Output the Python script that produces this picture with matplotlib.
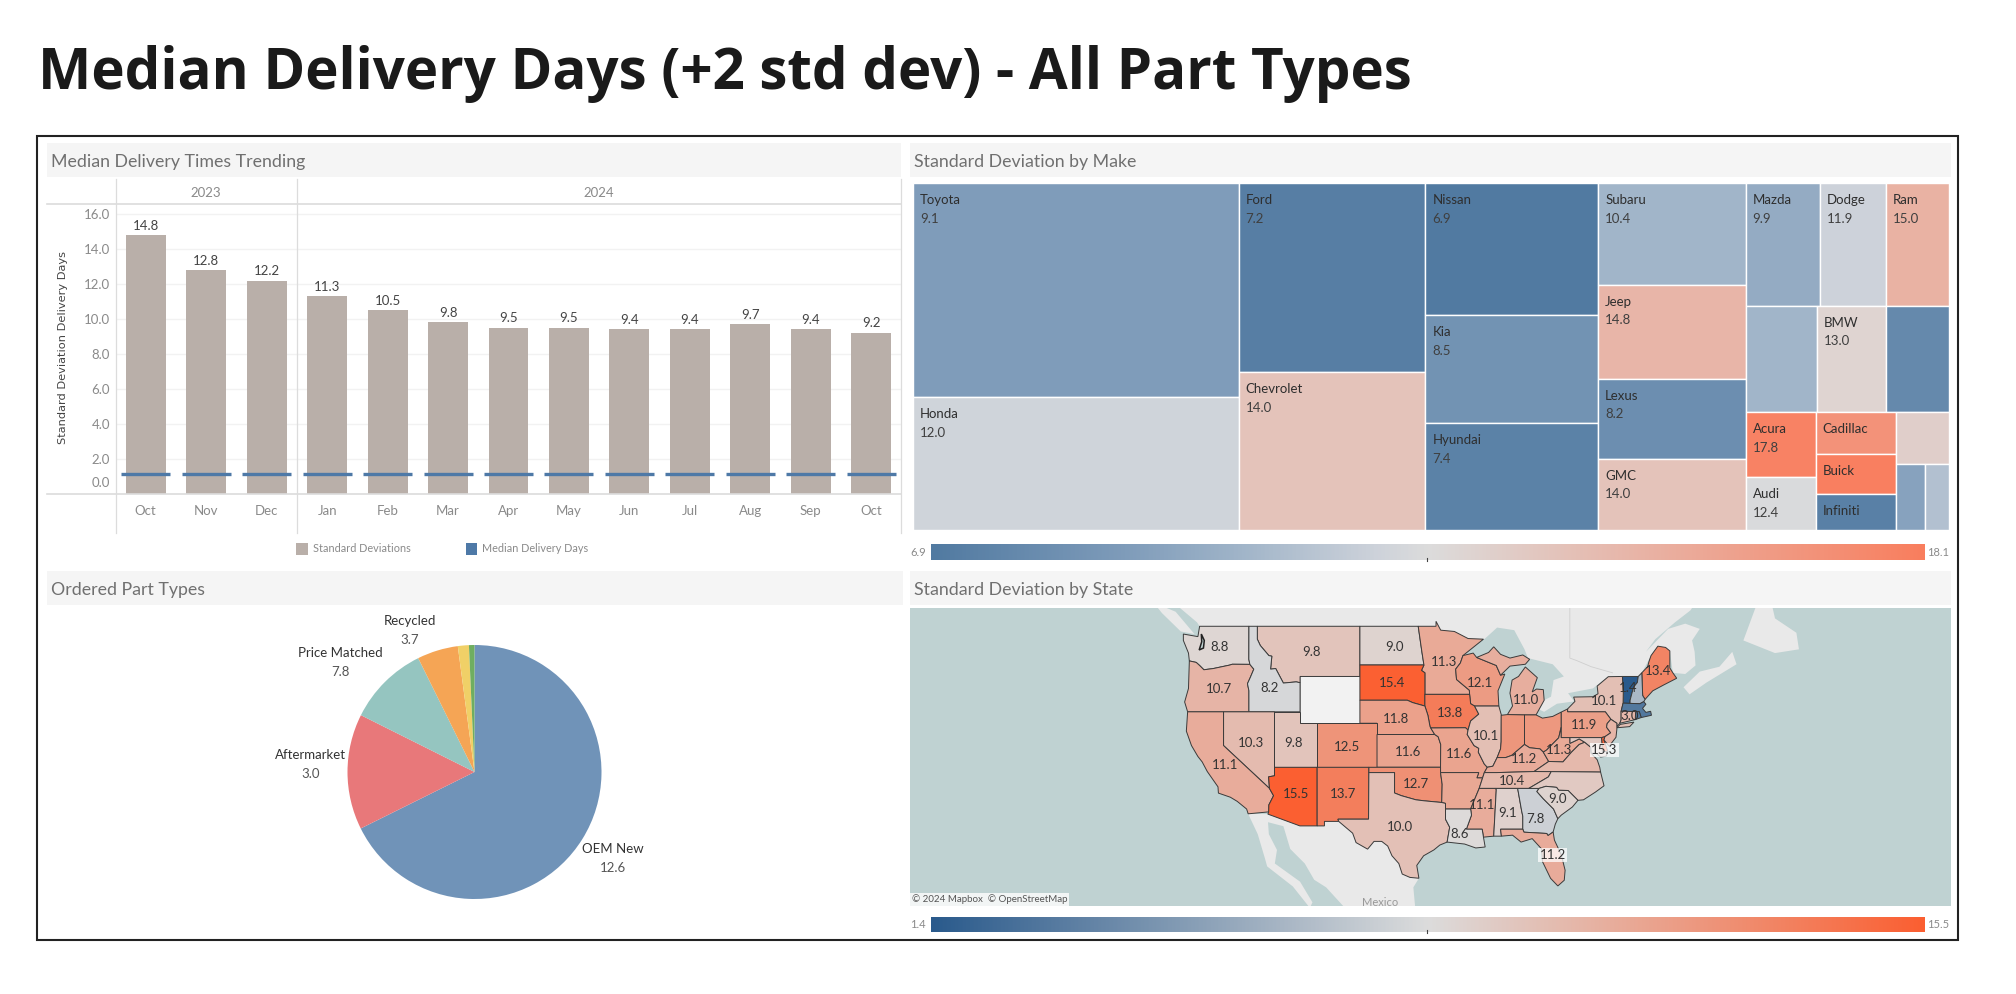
import numpy as np
import matplotlib
matplotlib.use("Agg")
import matplotlib.pyplot as plt
from matplotlib.patches import Rectangle, Polygon
from matplotlib.colors import LinearSegmentedColormap, TwoSlopeNorm
from matplotlib.transforms import ScaledTranslation

W, H = 2016, 994
BODY = ["Lato", "DejaVu Sans"]
plt.rcParams["font.family"] = BODY

# ---------- data ----------
months = ["Oct","Nov","Dec","Jan","Feb","Mar","Apr","May","Jun","Jul","Aug","Sep","Oct"]
std_dev = [14.8,12.8,12.2,11.3,10.5,9.8,9.5,9.5,9.4,9.4,9.7,9.4,9.2]
median_days = [1.1]*13
y_ticks = [0,2,4,6,8,10,12,14,16]

make_names = ["Toyota","Honda","Ford","Chevrolet","Nissan","Kia","Hyundai","Subaru","Jeep","Lexus","GMC",
              "Mazda","Dodge","Ram","","BMW","","Acura","Audi","Cadillac","Buick","Infiniti","","",""]
make_std = [9.1,12.0,7.2,14.0,6.9,8.5,7.4,10.4,14.8,8.2,14.0,
            9.9,11.9,15.0,10.4,13.0,7.9,17.8,12.4,16.9,18.0,7.3,13.3,9.4,11.0]
make_area = [303.7,188.3,153.7,128.2,99.4,81.3,80.3,65.3,60.3,51.4,45.6,
             39.7,35.3,33.5,32.9,32.2,29.0,19.9,16.1,14.6,13.9,12.4,11.9,8.3,6.9]
make_tree = [[0,1],[2,3],[4,5,6],[7,8,9,10],
             [[11,12,13],[14,15,16],[[17,18],[19,20,21],[22,[23,24]]]]]

part_names = ["OEM New","Aftermarket","Price Matched","Recycled","",""]
part_std = ["12.6","3.0","7.8","3.7","",""]
part_share = [67.6,14.7,10.3,5.2,1.4,0.7]
part_colors = ["#7093b8","#e8787a","#95c5c0","#f5a555","#f0d067","#6fae60"]

state_names = ["WA","MT","ND","MN","WI","SD","ME","VT","NH","OR","ID","WY","IA","MI","NY","NE","MA","RI","CT","PA",
               "NV","UT","CO","KS","MO","IL","IN","OH","KY","WV","VA","DE","MD","NJ","CA","AZ","NM","OK","AR",
               "TN","MS","AL","GA","NC","SC","TX","LA","FL"]
state_values = [8.8,9.8,9.0,11.3,12.1,15.4,13.4,1.4,6.5,10.7,8.2,None,13.8,11.0,10.1,11.8,3.0,3.0,10.5,11.9,
                10.3,9.8,12.5,11.6,11.6,10.1,12.4,12.3,11.2,11.3,10.4,15.3,9.6,10.6,11.1,15.5,13.7,12.7,11.4,
                10.4,11.1,9.1,7.8,9.5,9.0,10.0,8.6,11.2]

# base geography (lon, lat outlines, simplified)
GEO = {
"WA":[[(-124.7,48.4),(-123.0,48.2),(-122.8,49),(-117.03,49),(-117.04,46.4),(-116.92,45.99),(-118.98,46),(-119.3,45.93),(-121.2,45.65),(-122.3,45.55),(-122.8,45.9),(-123.2,46.15),(-124,46.27),(-124.1,46.9),(-124.7,47.9)]],
"OR":[[(-124,46.27),(-123.2,46.15),(-122.8,45.9),(-122.3,45.55),(-121.2,45.65),(-119.3,45.93),(-118.98,46),(-116.92,45.99),(-116.46,45.6),(-116.85,44.95),(-117.2,44.4),(-117.03,43.8),(-117.03,42),(-124.2,42),(-124.55,42.85),(-124.1,44)]],
"CA":[[(-124.2,42),(-120,42),(-120,39),(-114.63,35),(-114.15,34.3),(-114.7,33.4),(-114.72,32.72),(-117.12,32.53),(-117.3,33),(-118.4,33.75),(-119.2,34.15),(-120.6,34.55),(-120.65,35.15),(-121.9,36.6),(-122.5,37.5),(-123,38),(-123.75,39),(-124.35,40.3)]],
"NV":[[(-120,42),(-114.04,42),(-114.04,36.2),(-114.73,36.1),(-114.63,35),(-120,39)]],
"ID":[[(-117.03,49),(-116.05,49),(-116.05,48),(-115.7,47.5),(-114.7,46.7),(-114.35,46.65),(-114.5,45.6),(-113.9,45.65),(-113.45,45.05),(-113,44.45),(-111.5,44.55),(-111.05,44.48),(-111.05,42),(-117.03,42),(-117.03,43.8),(-117.2,44.4),(-116.85,44.95),(-116.46,45.6),(-116.92,45.99),(-117.04,46.4)]],
"MT":[[(-116.05,49),(-104.05,49),(-104.05,45),(-111.05,45),(-111.05,44.48),(-111.5,44.55),(-113,44.45),(-113.45,45.05),(-113.9,45.65),(-114.5,45.6),(-114.35,46.65),(-114.7,46.7),(-115.7,47.5),(-116.05,48)]],
"WY":[[(-111.05,45),(-104.05,45),(-104.05,41),(-111.05,41)]],
"UT":[[(-114.04,42),(-111.05,42),(-111.05,41),(-109.05,41),(-109.05,37),(-114.04,37)]],
"CO":[[(-109.05,41),(-102.05,41),(-102.05,37),(-109.05,37)]],
"AZ":[[(-114.04,37),(-109.05,37),(-109.05,31.33),(-111.07,31.33),(-114.81,32.5),(-114.72,32.72),(-114.7,33.4),(-114.15,34.3),(-114.63,35),(-114.73,36.1),(-114.04,36.2)]],
"NM":[[(-109.05,37),(-103,37),(-103.04,32),(-106.62,32),(-106.53,31.78),(-108.2,31.78),(-108.2,31.33),(-109.05,31.33)]],
"ND":[[(-104.05,49),(-97.23,49),(-96.8,47),(-96.56,45.94),(-104.05,45.94)]],
"SD":[[(-104.05,45.94),(-96.56,45.94),(-96.85,45.5),(-96.45,45.3),(-96.45,42.5),(-97.9,42.8),(-98.5,43),(-104.05,43)]],
"NE":[[(-104.05,43),(-98.5,43),(-97.9,42.8),(-96.45,42.5),(-96.1,41.7),(-95.85,40.7),(-95.3,40),(-102.05,40),(-102.05,41),(-104.05,41)]],
"KS":[[(-102.05,40),(-95.3,40),(-94.9,39.8),(-94.6,39.1),(-94.62,37),(-102.05,37)]],
"OK":[[(-103,37),(-94.62,37),(-94.62,36.5),(-94.43,35.4),(-94.48,33.64),(-96.5,33.8),(-97.5,33.9),(-99.2,34.3),(-100,34.56),(-100,36.5),(-103,36.5)]],
"TX":[[(-103,36.5),(-100,36.5),(-100,34.56),(-99.2,34.3),(-97.5,33.9),(-96.5,33.8),(-94.48,33.64),(-94.04,33.55),(-94.04,32),(-93.55,31.2),(-93.85,29.7),(-94.7,29.4),(-95.4,28.9),(-96.6,28.3),(-97.4,27.3),(-97.15,25.96),(-98.2,26.05),(-99.1,26.4),(-99.5,27.5),(-100.3,28.3),(-100.8,29.3),(-101.5,29.77),(-102.4,29.77),(-103.15,28.98),(-104.5,29.65),(-104.9,30.6),(-106.53,31.78),(-106.62,32),(-103.04,32)]],
"MN":[[(-97.23,49),(-95.15,49),(-95.15,49.38),(-94.6,48.7),(-93,48.6),(-91.4,48.05),(-89.6,48),(-92,46.7),(-92.3,46.1),(-92.85,45.6),(-92.75,44.75),(-91.25,43.85),(-91.22,43.5),(-96.45,43.5),(-96.45,45.3),(-96.85,45.5),(-96.56,45.94),(-96.8,47)]],
"IA":[[(-96.45,43.5),(-91.22,43.5),(-91.1,42.7),(-90.64,42.5),(-90.15,41.8),(-91.1,41.2),(-91.4,40.4),(-91.7,40.6),(-95.77,40.58),(-95.85,40.7),(-96.1,41.7),(-96.45,42.5)]],
"MO":[[(-95.77,40.58),(-91.7,40.6),(-91.4,40.4),(-91.5,40),(-90.7,39),(-90.15,38.75),(-90.2,38.4),(-89.5,37.3),(-89.15,37),(-89.5,36.5),(-89.7,36),(-90.37,36),(-90.15,36.5),(-94.62,36.5),(-94.62,37),(-94.6,39.1),(-94.9,39.8),(-95.3,40)]],
"AR":[[(-94.62,36.5),(-90.15,36.5),(-90.37,36),(-89.7,36),(-90.1,35),(-91.1,33),(-94.04,33),(-94.04,33.55),(-94.48,33.64),(-94.43,35.4)]],
"LA":[[(-94.04,33),(-91.1,33),(-91,32.4),(-91.6,31),(-89.75,31),(-89.6,30.2),(-89.4,29.2),(-90.5,29.1),(-91.8,29.5),(-93.85,29.7),(-93.55,31.2),(-94.04,32)]],
"MS":[[(-91.1,33),(-90.1,35),(-88.2,35),(-88.1,34.9),(-88.4,30.3),(-89.6,30.2),(-89.75,31),(-91.6,31),(-91,32.4)]],
"AL":[[(-88.2,35),(-85.6,35),(-85.13,32.8),(-85,32.3),(-85,31),(-87.6,31),(-87.5,30.3),(-88.4,30.3),(-88.1,34.9)]],
"TN":[[(-90.1,35),(-89.7,36),(-89.5,36.5),(-88.05,36.5),(-83.68,36.6),(-81.68,36.59),(-82,36.1),(-84.3,35),(-88.2,35)]],
"KY":[[(-89.5,36.5),(-89.15,37),(-88.5,37.1),(-88,37.9),(-87,37.9),(-86.3,38.1),(-85.4,38.7),(-84.8,39.1),(-84.2,38.8),(-83,38.7),(-82.6,38.4),(-81.97,37.54),(-83.68,36.6),(-88.05,36.5)]],
"IL":[[(-90.64,42.5),(-87.8,42.5),(-87.5,41.7),(-87.53,39.35),(-87.6,38.7),(-88,37.9),(-88.5,37.1),(-89.15,37),(-89.5,37.3),(-90.2,38.4),(-90.15,38.75),(-90.7,39),(-91.5,40),(-91.4,40.4),(-91.1,41.2),(-90.15,41.8)]],
"WI":[[(-92,46.7),(-90.8,46.9),(-90.4,46.55),(-88.1,45.9),(-87.6,45.1),(-87.1,45.2),(-87.9,43.8),(-87.8,42.5),(-90.64,42.5),(-91.1,42.7),(-91.22,43.5),(-91.25,43.85),(-92.75,44.75),(-92.85,45.6),(-92.3,46.1)]],
"MI":[[(-86.8,41.76),(-84.8,41.73),(-83.45,41.73),(-83.1,42.2),(-82.5,43),(-82.6,43.9),(-83.4,43.95),(-83.9,43.7),(-83.3,44.9),(-84.7,45.78),(-85.5,45),(-86.25,44.7),(-86.5,43.6),(-86.2,42.5)],
      [(-90.4,46.55),(-89,46.95),(-88.4,47.4),(-87.6,46.8),(-86.5,46.5),(-85,46.75),(-84.2,46.4),(-84.7,46),(-86.5,45.85),(-87.6,45.1),(-88.1,45.9)]],
"IN":[[(-87.53,41.7),(-86.8,41.76),(-84.8,41.73),(-84.8,39.1),(-85.4,38.7),(-86.3,38.1),(-87,37.9),(-88,37.9),(-87.6,38.7),(-87.53,39.35)]],
"OH":[[(-84.8,41.73),(-83.45,41.73),(-82.7,41.45),(-81.5,41.6),(-80.52,41.97),(-80.52,40.64),(-80.8,39.7),(-81.7,39),(-82.2,38.6),(-82.6,38.4),(-83,38.7),(-84.2,38.8),(-84.8,39.1)]],
"WV":[[(-80.52,40.64),(-80.52,39.72),(-79.48,39.72),(-79.48,39.2),(-78.4,39.6),(-77.75,39.3),(-78.4,39.1),(-79.3,38.4),(-80.3,37.5),(-81.97,37.54),(-82.6,38.4),(-82.2,38.6),(-81.7,39),(-80.8,39.7)]],
"VA":[[(-83.68,36.6),(-81.68,36.59),(-75.9,36.55),(-76,37),(-76.3,37.7),(-77,38.3),(-77.05,38.85),(-77.75,39.3),(-78.4,39.1),(-79.3,38.4),(-80.3,37.5),(-81.97,37.54)]],
"NC":[[(-84.3,35),(-82,36.1),(-81.68,36.59),(-75.9,36.55),(-75.5,35.25),(-76.5,34.65),(-77.9,33.9),(-78.55,33.85),(-79.7,34.8),(-80.8,34.82),(-81.05,35.1),(-82.3,35.2),(-83.1,35)]],
"SC":[[(-83.1,35),(-82.3,35.2),(-81.05,35.1),(-80.8,34.82),(-79.7,34.8),(-78.55,33.85),(-79.2,33.2),(-80.5,32.4),(-80.9,32.05),(-81.4,33),(-82.6,34),(-83.35,34.7)]],
"GA":[[(-85.6,35),(-83.1,35),(-83.35,34.7),(-82.6,34),(-81.4,33),(-80.9,32.05),(-81.2,31.5),(-81.45,30.72),(-82.05,30.36),(-82.2,30.57),(-84.86,30.7),(-85,31),(-85,32.3),(-85.13,32.8)]],
"FL":[[(-87.6,31),(-85,31),(-84.86,30.7),(-82.2,30.57),(-82.05,30.36),(-81.45,30.72),(-81.3,29.9),(-80.5,28.4),(-80.05,26.8),(-80.15,25.75),(-80.9,25.15),(-81.75,25.95),(-82.7,27.7),(-82.8,29),(-83.9,30.05),(-85.2,29.7),(-86.2,30.4),(-87.5,30.3)]],
"PA":[[(-80.52,41.97),(-79.76,42.25),(-79.76,42),(-75.35,42),(-74.7,41.35),(-75.13,40.97),(-75.2,40.65),(-74.72,40.15),(-75.4,39.8),(-75.79,39.72),(-80.52,39.72)]],
"NY":[[(-79.76,42.25),(-78.9,42.9),(-79.05,43.27),(-76.8,43.3),(-76.2,43.55),(-76.3,44.2),(-75,44.98),(-73.35,45),(-73.25,43.6),(-73.27,42.75),(-73.5,42.05),(-73.5,41.3),(-73.65,41),(-74,40.7),(-74,41),(-74.7,41.35),(-75.35,42),(-79.76,42)],
      [(-74,40.6),(-73.6,40.9),(-72,41.1),(-72.5,40.7)]],
"NJ":[[(-74.7,41.35),(-74,41),(-74,40.45),(-74.1,39.75),(-74.9,38.95),(-75.5,39.5),(-75.4,39.8),(-74.72,40.15),(-75.2,40.65),(-75.13,40.97)]],
"DE":[[(-75.79,39.72),(-75.4,39.8),(-75.5,39.5),(-75.05,38.45),(-75.7,38.46)]],
"MD":[[(-79.48,39.72),(-75.79,39.72),(-75.7,38.46),(-75.05,38.45),(-75.25,38.03),(-75.9,37.95),(-76.4,38.3),(-77,38.3),(-77.05,38.85),(-77.75,39.3),(-78.4,39.6),(-79.48,39.2)]],
"CT":[[(-73.5,42.05),(-71.8,42.02),(-71.85,41.32),(-73.65,41),(-73.5,41.3)]],
"RI":[[(-71.8,42.02),(-71.38,42.02),(-71.15,41.5),(-71.85,41.32)]],
"MA":[[(-73.5,42.05),(-73.27,42.75),(-71.3,42.7),(-70.85,42.88),(-70.6,42.65),(-71,42.3),(-70.6,41.95),(-70.05,42.05),(-69.95,41.7),(-71.15,41.5),(-71.38,42.02),(-71.8,42.02)]],
"VT":[[(-73.35,45),(-71.5,45),(-71.6,44.5),(-72.05,44.1),(-72.45,43),(-72.46,42.73),(-73.27,42.75),(-73.25,43.6)]],
"NH":[[(-71.5,45),(-71.08,45.3),(-70.98,43.4),(-70.7,43.07),(-70.85,42.88),(-71.3,42.7),(-72.46,42.73),(-72.45,43),(-72.05,44.1),(-71.6,44.5)]],
"ME":[[(-71.08,45.3),(-70.4,45.8),(-70.25,46.2),(-70,46.7),(-69.2,47.45),(-68.3,47.35),(-67.8,47.07),(-67.8,45.7),(-67.45,45.3),(-67,44.85),(-68.5,44.3),(-69.8,43.8),(-70.7,43.07),(-70.98,43.4)]],
}
LAND = [
 # Canada mainland
 [(-125.6,51.5),(-125.5,50.6),(-123.1,49.3),(-122.8,49),(-95.15,49),(-95.15,49.38),(-94.6,48.7),(-93,48.6),(-91.4,48.05),(-89.5,48),(-88,48.9),(-86,48.7),(-84.8,47.2),(-84.4,46.5),(-81.5,46),(-80.2,45),(-81.4,44.7),(-81.7,43.3),(-82.5,43),(-83.1,42.2),(-82.5,42),(-81,42.7),(-79,42.9),(-79.7,43.6),(-76.8,44),(-75,45),(-71.5,45),(-71.08,45.3),(-70,46.7),(-69.2,47.45),(-67.8,47.07),(-67.45,45.3),(-66,45.2),(-64.8,45.9),(-64.9,47),(-65.2,47.9),(-64.3,48.8),(-66,49.2),(-68,48.8),(-70.6,47),(-69.5,48),(-67.2,49.3),(-65.4,50.2),(-64,51.5),(-125.6,51.5)],
 # Vancouver Island
 [(-128.2,50.8),(-125.6,50.1),(-123.4,48.4),(-125,48.6),(-127.2,50)],
 # Nova Scotia
 [(-66.2,44.1),(-64.3,45.4),(-62,45.8),(-60.5,47),(-60,46),(-63.5,44.5),(-65.5,43.5)],
 # Newfoundland
 [(-57.2,51.4),(-59.2,47.9),(-55.5,46.9),(-52.7,47.2),(-53,48.5),(-55.5,49.6),(-56,51)],
 # Mexico with Baja
 [(-117.12,32.53),(-116,30.5),(-115.15,28),(-114.9,27.2),(-111.9,25.1),(-109.9,22.8),(-109.6,23.4),(-111.05,25.6),(-114,27.5),(-113.75,28.9),(-114.7,30.5),(-114.8,31.7),(-113,31.3),(-112.2,29),(-110.5,27.5),(-109.4,25.8),(-108,25),(-106,23),(-105,20),(-96,20),(-97.5,22),(-97.8,25),(-97.15,25.96),(-98.2,26.05),(-99.1,26.4),(-99.5,27.5),(-100.3,28.3),(-100.8,29.3),(-101.5,29.77),(-102.4,29.77),(-103.15,28.98),(-104.5,29.65),(-104.9,30.6),(-106.53,31.78),(-108.2,31.78),(-108.2,31.33),(-111.07,31.33),(-114.81,32.5)],
]
PUGET = [(-122.6,48.4),(-122.25,47.9),(-122.35,47.3),(-122.85,47.15),(-122.55,47.8)]
PROV_LINE = [(-79.5,51),(-79.5,46.5),(-78.7,46.3),(-77,45.8),(-74.5,45.3)]
# state labels: text, x and y read on the 1080-wide crop frame
LBL = [("8.8",449,230),("9.8",583,247),("9.0",703,230),("11.3",775,276),("12.1",827,340),("15.4",700,339),
       ("13.4",1086,303),("1.4",1043,355),("10.7",449,357),("8.2",522,354),("13.8",784,428),("11.0",895,390),
       ("10.1",1008,393),("11.8",706,446),("3.0",1045,437),("11.9",978,466),("10.3",495,520),("9.8",557,520),
       ("12.5",635,530),("11.6",723,545),("11.6",797,552),("10.1",837,497),("11.2",892,568),("11.3",943,540),
       ("11.1",458,586),("15.5",560,673),("13.7",629,673),("12.7",735,641),("10.4",874,634),("11.1",830,705),
       ("9.0",940,688),("9.1",868,730),("7.8",908,747),("10.0",712,771),("8.6",798,791)]
BOXED = [("15.3",1008,540),("11.2",933,855)]

# ---------- helpers ----------
fig = plt.figure(figsize=(W/100, H/100), dpi=100, facecolor="white")

def px_axes(x0, y0, x1, y1, **kw):
    return fig.add_axes([x0/W, 1-y1/H, (x1-x0)/W, (y1-y0)/H], **kw)

def merc(lat):
    return np.degrees(np.log(np.tan(np.radians(45+np.asarray(lat, float)/2))))

GREY = "#8a8a8a"; RULE = "#dcdcdc"
over = px_axes(0, 0, W, H, zorder=20)
over.set_xlim(0, W); over.set_ylim(H, 0); over.axis("off"); over.patch.set_alpha(0)

# ---------- chrome ----------
over.text(38, 89, "Median Delivery Days (+2 std dev) - All Part Types", family=["Open Sans","DejaVu Sans"],
          fontweight="bold", fontsize=40.7, color="#1a1a1a", va="baseline", ha="left")
over.add_patch(Rectangle((37, 136), 1921, 804, fill=False, ec="#222222", lw=1.5))
for (x0, y0, x1, y1, t) in [(47,143,901,177,"Median Delivery Times Trending"),(910,143,1951,177,"Standard Deviation by Make"),
                            (47,571,903,605,"Ordered Part Types"),(910,571,1951,605,"Standard Deviation by State")]:
    over.add_patch(Rectangle((x0,y0), x1-x0, y1-y0, fc="#f5f5f5", ec="none", zorder=0))
    over.text(x0+4, (y0+y1)/2+2.5, t, fontsize=12.8, color="#707070", va="center", ha="left")

# ---------- bars ----------
ax = px_axes(115.5, 204, 901.5, 493.5)
x = np.arange(len(months))
ax.set_xlim(-0.5, 12.5); ax.set_ylim(0, 16.59)
ax.bar(x, std_dev, width=0.66, color="#b9afa9", zorder=2)
ax.hlines(median_days, x-0.405, x+0.405, color="#4e79a7", lw=2.4, zorder=3)
for xi, v in zip(x, std_dev):
    ax.annotate(f"{v:.1f}", (xi, v), xytext=(0, 2.5), textcoords="offset points", ha="center", va="bottom",
                fontsize=9.5, color="#444444")
ax.set_yticks(y_ticks); ax.set_yticklabels([f"{t:.1f}" for t in y_ticks], fontsize=9.5, color=GREY)
ax.set_xticks(x); ax.set_xticklabels(months, fontsize=9.5, color=GREY)
ax.tick_params(length=0, pad=4)
ax.tick_params(axis="x", pad=8)
zero_lbl = ax.get_yticklabels()[0]
zero_lbl.set_va("bottom")
zero_lbl.set_transform(zero_lbl.get_transform() + ScaledTranslation(0, 3/72, fig.dpi_scale_trans))
ax.grid(axis="y", color="#f2f2f2", lw=1, zorder=0); ax.set_axisbelow(True)
for s in ax.spines.values(): s.set_visible(False)
ax.set_ylabel("Standard Deviation Delivery Days", fontsize=8.2, color="#444444", family=["DejaVu Sans"])
ax.yaxis.set_label_coords((68-115.5)/786, 1-(348-204)/289.5)
over.plot([47,901],[204,204], color=RULE, lw=1.2); over.plot([47,901],[493.5,493.5], color=RULE, lw=1.2)
for vx in (116, 297, 901):
    over.plot([vx,vx],[179,533], color=RULE, lw=0.9)
over.text(206, 193, "2023", fontsize=9.5, color=GREY, ha="center", va="center")
over.text(599, 193, "2024", fontsize=9.5, color=GREY, ha="center", va="center")
over.add_patch(Rectangle((296,543),12,12,fc="#b9afa9",ec="none"))
over.text(313,549,"Standard Deviations",fontsize=7.8,color=GREY,va="center")
over.add_patch(Rectangle((466,543),11,12,fc="#4e79a7",ec="none"))
over.text(482,549,"Median Delivery Days",fontsize=7.8,color=GREY,va="center")

# ---------- treemap ----------
cmap_make = LinearSegmentedColormap.from_list("mk", [(0,"#517aa1"),(0.195,"#7f9cba"),(0.3125,"#a1b5c9"),(0.4465,"#cdd2da"),(0.5,"#dcdcdc"),(1,"#f97e5e")])
norm_make = TwoSlopeNorm(vmin=6.9, vcenter=12.5, vmax=18.1)
TM_H = 530-183.3
tm = px_axes(913, 183.3, 1948.6, 530)
tm.set_xlim(0,1); tm.set_ylim(1,0); tm.axis("off")

def weight(n):
    return make_area[n] if isinstance(n, int) else sum(weight(c) for c in n)

def layout(n, x0, y0, x1, y1, horiz):
    if isinstance(n, int):
        tm.add_patch(Rectangle((x0,y0), x1-x0, y1-y0, fc=cmap_make(norm_make(make_std[n])), ec="white", lw=1))
        if make_names[n]:
            tm.annotate(make_names[n], (x0,y0), xytext=(5,-12), textcoords="offset points", fontsize=9.5, color="#2e2e2e", va="center")
            if (y1-y0)*TM_H > 48:
                tm.annotate(f"{make_std[n]:.1f}", (x0,y0), xytext=(5,-25.5), textcoords="offset points", fontsize=9.5, color="#3f3f3f", va="center")
        return
    tot = weight(n); pos = 0.0
    for c in n:
        f0, f1 = pos/tot, (pos+weight(c))/tot
        if horiz:
            layout(c, x0+(x1-x0)*f0, y0, x0+(x1-x0)*f1, y1, False)
        else:
            layout(c, x0, y0+(y1-y0)*f0, x1, y0+(y1-y0)*f1, True)
        pos += weight(c)
layout(make_tree, 0, 0, 1, 1, True)

def colorbar(y0, y1, cmap, norm, lo, hi):
    c = px_axes(930.7, y0, 1923.8, y1)
    c.imshow(norm.inverse(np.linspace(0,1,512))[None,:], cmap=cmap, norm=norm, aspect="auto", extent=[lo,hi,0,1])
    c.set_xticks([]); c.set_yticks([])
    for s in c.spines.values(): s.set_visible(False)
    over.text(926, (y0+y1)/2, f"{lo:.1f}", fontsize=8, color=GREY, ha="right", va="center")
    over.text(1927, (y0+y1)/2, f"{hi:.1f}", fontsize=8, color=GREY, ha="left", va="center")
    over.plot([1427.3,1427.3],[y1-2,y1+1], color="#444444", lw=0.8)
colorbar(544, 560, cmap_make, norm_make, 6.9, 18.1)

# ---------- pie ----------
pa = px_axes(474.5-127, 772-127, 474.5+127, 772+127)
pa.pie(part_share, colors=part_colors, startangle=90, counterclock=False, radius=1.0,
       wedgeprops=dict(lw=0))
pa.set_xlim(-1,1); pa.set_ylim(-1,1)
part_lbl_pos = [(612.5,849,868),(310.6,755,774),(340,653,672),(410,621,640)]
for (name, val, (lx, y1, y2)) in zip(part_names, part_std, part_lbl_pos):
    over.text(lx, y1, name, fontsize=9.5, color="#333333", ha="center", va="center")
    over.text(lx, y2, val, fontsize=9.5, color="#555555", ha="center", va="center")

# ---------- map ----------
S = 8.55
WATER = "#bfd2d2"
mp = px_axes(910, 608, 1951, 906, facecolor=WATER)
mp.set_xlim(-114.8+(910-1268)/S, -114.8+(1951-1268)/S)
mp.set_ylim(56.4-(906-626)/S, 56.4+(626-608)/S)
mp.set_xticks([]); mp.set_yticks([])
for s in mp.spines.values(): s.set_visible(False)

def to_xy(pts):
    a = np.array(pts, float)
    return np.column_stack([a[:,0], merc(a[:,1])])

for poly in LAND:
    mp.add_patch(Polygon(to_xy(poly), fc="#e9e9e9", ec="none", zorder=1))
pl = to_xy(PROV_LINE)
mp.plot(pl[:,0], pl[:,1], color="#cfcfcf", lw=0.6, zorder=1.5)
cmap_state = LinearSegmentedColormap.from_list("st", ["#2a5a8c","#dcdcdc","#fb5f31"])
norm_state = TwoSlopeNorm(vmin=1.4, vcenter=8.45, vmax=15.5)
for name, v in zip(state_names, state_values):
    fc = "#f2f2f2" if v is None else cmap_state(norm_state(v))
    ec = "#aaaaaa" if v is None else "#3a3a3a"
    for poly in GEO[name]:
        mp.add_patch(Polygon(to_xy(poly), fc=fc, ec=ec, lw=0.7, zorder=3 if v is not None else 2))
mp.add_patch(Polygon(to_xy(PUGET), fc=WATER, ec="#222222", lw=1.1, zorder=4))

def zx(v): return 910 + v/1.452
def zy(v): return 570 + v/3
for t, a, b in LBL:
    over.text(zx(a), zy(b), t, fontsize=9.5, color="#333333", ha="center", va="center")
for t, a, b in BOXED:
    over.text(zx(a), zy(b), t, fontsize=9.5, color="#333333", ha="center", va="center",
              bbox=dict(fc="white", ec="none", alpha=0.75, pad=1))
over.text(912, 899.5, "© 2024 Mapbox  © OpenStreetMap", fontsize=7, color="#555555", va="center",
          bbox=dict(fc="white", ec="none", alpha=0.8, pad=1.2))
over.text(1380, 902, "Mexico", fontsize=8, color="#999999", ha="center", va="center")
colorbar(917, 932, cmap_state, norm_state, 1.4, 15.5)

fig.savefig("out.png", dpi=100, facecolor="white")
